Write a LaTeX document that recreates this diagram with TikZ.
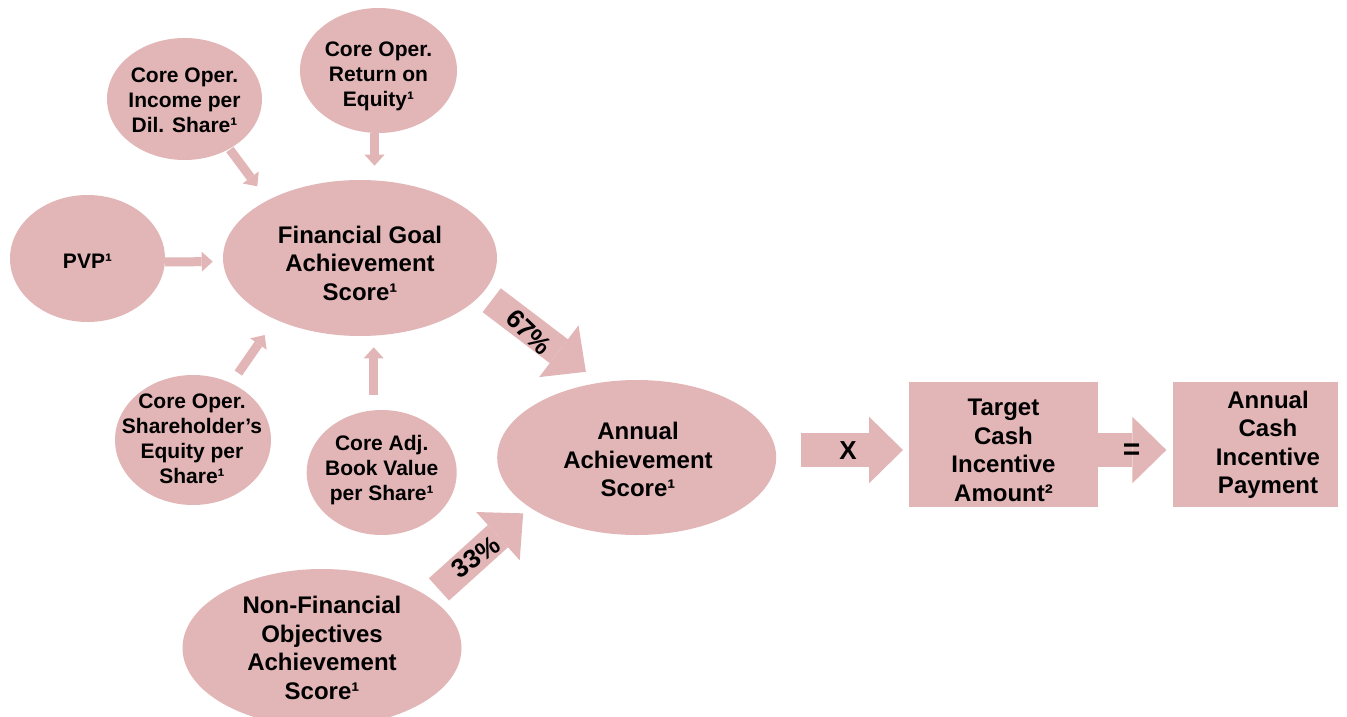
\documentclass[tikz,border=0pt]{standalone}
\usepackage{fontspec}
\setmainfont{Liberation Sans}
\usetikzlibrary{shapes.geometric,arrows.meta,calc}
\definecolor{pk}{HTML}{E2B5B6}
\begin{document}
\begin{tikzpicture}[x=1pt,y=-1pt,
  oval/.style={ellipse,fill=pk,inner sep=0pt,outer sep=0pt},
  box/.style={rectangle,fill=pk,inner sep=0pt,outer sep=0pt},
  bigtxt/.style={font=\bfseries\fontsize{24}{28.5}\selectfont,align=center,inner sep=0pt},
  smalltxt/.style={font=\bfseries\fontsize{21}{25}\selectfont,align=center,inner sep=0pt},
  pcttxt/.style={font=\bfseries\fontsize{26}{30}\selectfont,inner sep=0pt},
  thinarrow/.style={draw=pk,line width=9pt,-{Triangle[width=20pt,length=11pt,line width=0pt]}},
  fatarrow/.style={draw=pk,line width=30pt,-{Triangle[width=65pt,length=34pt,line width=0pt]}},
  widearrow/.style={draw=pk,line width=33.3pt,-{Triangle[width=66.7pt,length=34pt,line width=0pt]}},
]
\useasboundingbox (0,0) rectangle (1347,717);
\clip (0,0) rectangle (1347,717);

% shapes
\node[oval,minimum width=155pt,minimum height=127pt] (pvp) at (87.5,258.5) {};
\node[oval,minimum width=155pt,minimum height=122pt] (inc) at (184.5,99) {};
\node[oval,minimum width=157pt,minimum height=125pt] (ret) at (378.5,70.5) {};
\node[oval,minimum width=274pt,minimum height=156pt] (fin) at (360,258) {};
\node[oval,minimum width=156pt,minimum height=130pt] (sh) at (193,440) {};
\node[oval,minimum width=150pt,minimum height=125pt] (bv) at (381.7,472.5) {};
\node[oval,minimum width=279pt,minimum height=155pt] (ach) at (636.7,457.5) {};
\node[oval,minimum width=279pt,minimum height=158pt] (nf) at (322,648) {};
\node[box,minimum width=189pt,minimum height=125pt] (tgt) at (1003.5,444.5) {};
\node[box,minimum width=165pt,minimum height=125pt] (pay) at (1255.5,444.5) {};
\coordinate (row) at (0,450);

% texts
\node[smalltxt] (tpvp) at (87.5,261) {PVP¹};
\node[smalltxt] (tinc) at (184.5,100.7) {Core Oper.\\Income per\\Dil. Share¹};
\node[smalltxt] (tret) at (378.5,76) {Core Oper.\\Return on\\Equity¹};
\node[bigtxt] (tfin) at (360,263) {Financial Goal\\Achievement\\Score¹};
\node[smalltxt] (tsh) at (192,439) {Core Oper.\\Shareholder’s\\Equity per\\Share¹};
\node[smalltxt] (tbv) at (381.7,470.5) {Core Adj.\\Book Value\\per Share¹};
\node[bigtxt] (tach) at (638,459.8) {Annual\\Achievement\\Score¹};
\node[bigtxt] (tnf) at (322,648) {Non-Financial\\Objectives\\Achievement\\Score¹};
\node[bigtxt] (ttgt) at (1003.5,450.5) {Target\\Cash\\Incentive\\Amount²};
\node[bigtxt] (tpay) at (1268,445) {Annual\\Cash\\Incentive\\Payment};

% small arrows
\draw[thinarrow,shorten <=1pt,shorten >=17.5pt] (inc.-48.2) -- (fin.148.9);
\draw[thinarrow,shorten >=14.3pt] ([xshift=-4pt]ret.south) -- ([xshift=-4pt]ret.south |- fin.north);
\draw[thinarrow,shorten >=10.3pt] ([yshift=-3.5pt]pvp.east) -- ([yshift=-3.5pt]fin.west);
\draw[thinarrow,shorten <=12.5pt,shorten >=19pt] (sh.56.4) -- (fin.216.2);
\draw[thinarrow,shorten <=15pt,shorten >=11.3pt] ([xshift=-8pt]bv.north) -- ([xshift=-8pt]bv.north |- fin.south);

% big arrows
\draw[fatarrow,shorten <=11.8pt,shorten >=18pt] (fin.-16.4) -- (ach.116.6);
\draw[fatarrow,shorten <=12.5pt,shorten >=9pt] (nf.25.8) -- (ach.205.1);
\draw[widearrow,shorten <=24.5pt,shorten >=6pt] (ach.east |- row) -- (tgt.west |- row);
\draw[widearrow,shorten >=6.7pt] (tgt.east |- row) -- (pay.west |- row);

% arrow labels
\node[pcttxt,rotate=-44] (l67) at (529,332) {67\%};
\node[pcttxt,rotate=35] (l33) at (476,557) {33\%};
\node[pcttxt] (lx) at (848,451) {X};
\node[font=\bfseries\fontsize{30}{32}\selectfont,inner sep=0pt] (leq) at (1131.7,451.7) {=};
\end{tikzpicture}
\end{document}
